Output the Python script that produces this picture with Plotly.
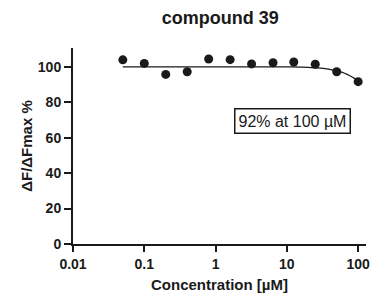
import plotly.graph_objects as go

# Data
conc = [0.05, 0.1, 0.2, 0.4, 0.8, 1.6, 3.2, 6.4, 12.5, 25, 50, 100]
response = [104, 102, 95.8, 97.3, 104.5, 104.1, 101.7, 102.4, 102.8, 101.5, 97.3, 91.7]

fit_conc = [0.05, 1, 10, 20, 30, 40, 50, 60, 70, 80, 90, 100]
fit_resp = [100, 100, 100, 99.8, 99.3, 98.6, 97.8, 96.9, 95.8, 94.6, 93.4, 92.3]

x_tickvals = [0.01, 0.1, 1, 10, 100]
x_ticktext = ["0.01", "0.1", "1", "10", "100"]
y_tickvals = [0, 20, 40, 60, 80, 100]

title = "compound 39"
x_title = "Concentration [µM]"
y_title = "ΔF/ΔFmax %"
note = "92% at 100 µM"

font = "Liberation Sans, Arial, sans-serif"
ink = "#1a1a1a"

fig = go.Figure()
fig.add_trace(go.Scatter(x=fit_conc, y=fit_resp, mode="lines",
                         line=dict(color=ink, width=1.3, shape="spline"),
                         hoverinfo="skip", showlegend=False))
fig.add_trace(go.Scatter(x=conc, y=response, mode="markers",
                         marker=dict(color=ink, size=9),
                         showlegend=False))

fig.update_layout(
    width=383, height=296,
    margin=dict(l=73, r=17, t=48, b=52),
    paper_bgcolor="white", plot_bgcolor="white",
    font=dict(family=font, color=ink),
    title=dict(text="<b>" + title + "</b>", x=0.575, xanchor="center",
               y=1 - 18 / 296, yref="container", yanchor="middle",
               font=dict(size=18, family=font, color=ink)),
    showlegend=False,
)
fig.update_xaxes(type="log", range=[-2, 2.11], tickvals=x_tickvals,
                 ticktext=["<b>" + t + "</b>" for t in x_ticktext],
                 automargin=False,
                 showgrid=False, zeroline=False, showline=True, linecolor=ink, linewidth=2,
                 ticks="outside", ticklen=6, tickwidth=2, tickcolor=ink,
                 tickfont=dict(size=14, family=font, color=ink),
                 title=dict(text="<b>" + x_title + "</b>", font=dict(size=15, family=font, color=ink), standoff=9))
fig.update_yaxes(range=[0, 110.7], tickvals=y_tickvals,
                 ticktext=["<b>" + str(v) + "</b>" for v in y_tickvals],
                 automargin=False,
                 showgrid=False, zeroline=False, showline=True, linecolor=ink, linewidth=2,
                 ticks="outside", ticklen=7, tickwidth=2, tickcolor=ink,
                 tickfont=dict(size=14, family=font, color=ink),
                 title=dict(text="<b>" + y_title + "</b>", font=dict(size=15, family=font, color=ink), standoff=2))

fig.add_annotation(x=1.085, y=69.5, xref="x", yref="y", text=note, showarrow=False,
                   font=dict(size=16, family=font, color=ink),
                   bordercolor=ink, borderwidth=1.5, borderpad=3, bgcolor="white")

fig.write_html("out.html", config={"displayModeBar": False},
               post_script="document.body.style.margin='0';")
